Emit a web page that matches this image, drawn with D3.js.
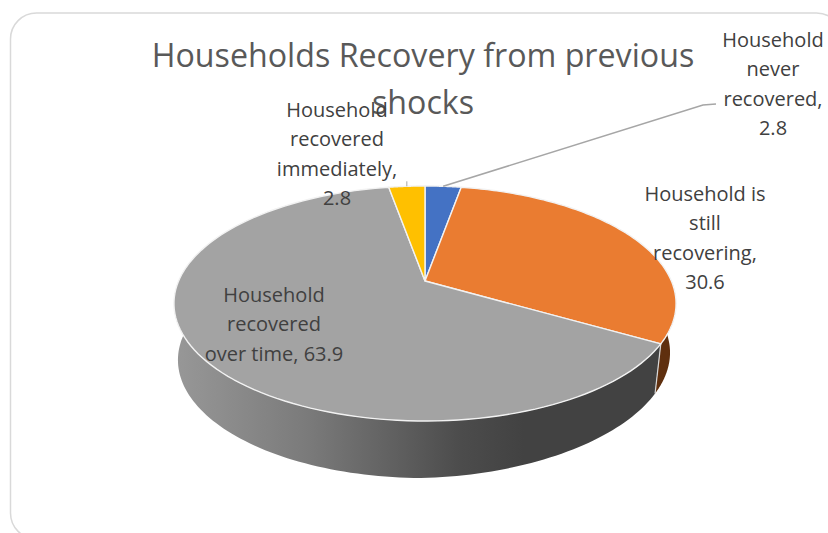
<!DOCTYPE html>
<html><head><meta charset="utf-8">
<script src="https://cdn.jsdelivr.net/npm/d3@7"></script>
<style>html,body{margin:0;background:#fff}svg{display:block}text{font-family:"Open Sans",sans-serif}</style>
</head><body><svg id="c" width="828" height="533"></svg>
<script>
const categories = ["Household never recovered","Household is still recovering","Household recovered over time","Household recovered immediately"];
const values = [2.8,30.6,63.9,2.8];
const colors = ["#4472c4","#ea7c31","#a3a3a3","#ffc000"];
const wallColors = ["#2a4475","#5f2f0e","url(#wall)","#997300"];
const titleLines = ["Households Recovery from previous","shocks"];
const labelLines = [["Household","never","recovered,","2.8"],["Household is","still","recovering,","30.6"],["Household","recovered","over time, 63.9"],["Household","recovered","immediately,","2.8"]];
const labelCenters = [[773,47],[705,201],[274,302],[337,117]];
const lineH = 29.3;

const svg = d3.select("#c");
const cx=425, cy=281, k=0.1915, Rx=246.4, Ry=113.2;
const defs = svg.append("defs");
const grad = defs.append("linearGradient").attr("id","wall").attr("gradientUnits","userSpaceOnUse").attr("x1",173).attr("x2",660).attr("y1",0).attr("y2",0);
[[0,"#989898"],[0.28,"#7a7a7a"],[0.59,"#4c4c4c"],[0.72,"#424242"],[1,"#424242"]].forEach(s=>grad.append("stop").attr("offset",s[0]).attr("stop-color",s[1]));

function proj(t){const u=Math.sin(t),v=-Math.cos(t),w=1-k*v;return [cx+Rx*u/w,cy+Ry*v/w];}
function base(t){const p=proj(t);const x=423+(p[0]-424)*246/251;return [x,360+(p[1]-303.5)*118/117.5-Math.max(0,x-423)*0.03];}
const pie=d3.pie().sort(null).value(d=>d)(values);
const rng=(a,b)=>d3.range(0,121).map(i=>a+(b-a)*i/120);
const line=d3.line();

// frame
svg.append("rect").attr("x",10.5).attr("y",13).attr("width",832).attr("height",526).attr("rx",26).attr("fill","#fff").attr("stroke","#d9d9d9").attr("stroke-width",1.5);

// walls
const deg=Math.PI/180;
pie.forEach((d,i)=>{
  const a=Math.max(d.startAngle,90*deg), b=Math.min(d.endAngle,285*deg);
  if(b<=a) return;
  const ts=rng(a,b);
  svg.append("path").attr("d",line(ts.map(t=>proj(t)).concat(ts.slice().reverse().map(base)))+"Z")
    .attr("fill",wallColors[i]).attr("stroke","none");
});
// wall seam
{const t=pie[1].endAngle;svg.append("path").attr("d",line([proj(t),base(t)])).attr("stroke","#d9d9d9").attr("stroke-width",1.2).attr("fill","none");}
// top faces
pie.forEach((d,i)=>{
  const ts=rng(d.startAngle,d.endAngle);
  svg.append("path").attr("d",line([[cx,cy]].concat(ts.map(t=>proj(t))))+"Z")
    .attr("fill",colors[i]).attr("stroke","#f2f2f2").attr("stroke-width",1.4).attr("stroke-linejoin","round");
});
// leaders
svg.append("path").attr("d",line([proj((pie[0].startAngle+pie[0].endAngle)/2),[703,105],[716,104]])).attr("fill","none").attr("stroke","#a6a6a6").attr("stroke-width",1.6);
{const p=proj(pie[3].startAngle+(pie[3].endAngle-pie[3].startAngle)/2);svg.append("path").attr("d",line([p,[p[0],p[1]-5]])).attr("fill","none").attr("stroke","#a6a6a6").attr("stroke-width",1);}

// title
titleLines.forEach((s,i)=>svg.append("text").attr("x",423).attr("y",67+i*47).attr("text-anchor","middle").attr("font-size",32.2).attr("fill","#595959").text(s));
// labels
labelLines.forEach((ls,i)=>{
  const [x,y]=labelCenters[i];
  ls.forEach((s,j)=>svg.append("text").attr("x",x).attr("y",y+j*lineH).attr("text-anchor","middle").attr("font-size",20).attr("fill","#404040").text(s));
});
</script></body></html>
